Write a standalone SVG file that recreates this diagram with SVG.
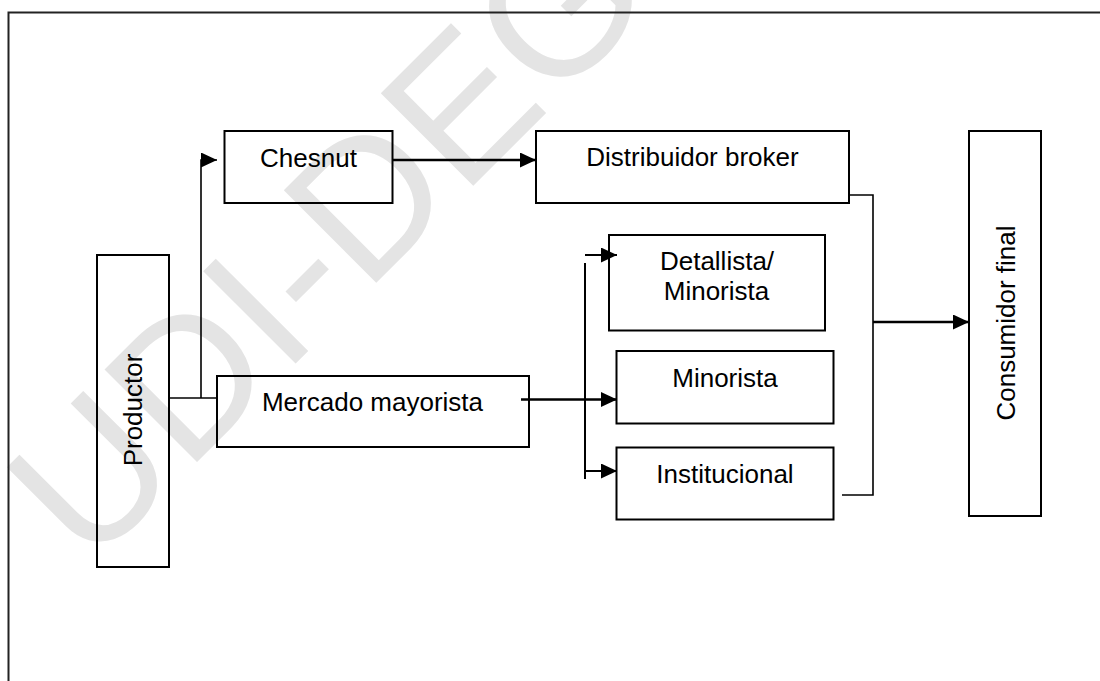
<svg xmlns="http://www.w3.org/2000/svg" width="1100" height="681" viewBox="0 0 1100 681">
  <defs>
    <style>
      .box { fill: none; stroke: #000; stroke-width: 2; }
      .lbl { font-family: "Liberation Sans", Arial, sans-serif; font-size: 26px; fill: #000; text-anchor: middle; }
      .thin { fill: none; stroke: #000; stroke-width: 1.6; }
      .thick { fill: none; stroke: #000; stroke-width: 2.6; }
      .mark { font-family: "Liberation Sans", Arial, sans-serif; font-size: 190px; fill: #e4e4e4; }
    </style>
    <marker id="head" markerUnits="userSpaceOnUse" markerWidth="16" markerHeight="15" refX="16" refY="7.5" orient="auto">
      <path d="M0,0 L16,7.5 L0,15 z" fill="#000"/>
    </marker>
  </defs>

  <rect width="1100" height="681" fill="#fff"/>

  <!-- background stamp -->
  <text class="mark" x="-340" y="466" transform="rotate(-45)">UDI-DEG</text>

  <!-- page frame -->
  <rect x="8.5" y="12.5" width="1200" height="800" fill="none" stroke="#222" stroke-width="2"/>

  <g id="productor">
    <rect class="box" x="97" y="255" width="72" height="312"/>
    <text class="lbl" transform="translate(142,410) rotate(-90)">Productor</text>
  </g>

  <g id="chesnut">
    <rect class="box" x="224.5" y="131" width="168" height="72"/>
    <text class="lbl" x="308.5" y="166.5">Chesnut</text>
  </g>

  <g id="distribuidor">
    <rect class="box" x="536" y="131" width="313" height="72"/>
    <text class="lbl" x="692.5" y="166">Distribuidor broker</text>
  </g>

  <g id="mercado">
    <rect class="box" x="217" y="376" width="312" height="71"/>
    <text class="lbl" x="372.5" y="410.5">Mercado mayorista</text>
  </g>

  <g id="detallista">
    <rect class="box" x="609" y="235" width="216" height="95.5"/>
    <text class="lbl" x="717" y="270">Detallista/</text>
    <text class="lbl" x="716.5" y="300">Minorista</text>
  </g>

  <g id="minorista">
    <rect class="box" x="616.5" y="351" width="217" height="72.5"/>
    <text class="lbl" x="725" y="386.5">Minorista</text>
  </g>

  <g id="institucional">
    <rect class="box" x="616.5" y="447.5" width="217" height="72"/>
    <text class="lbl" x="725" y="482.5">Institucional</text>
  </g>

  <g id="consumidor">
    <rect class="box" x="969" y="131" width="72" height="385"/>
    <text class="lbl" transform="translate(1015,323) rotate(-90)">Consumidor final</text>
  </g>

  <g id="connectors">
    <path class="thin" d="M169,398 H217"/>
    <path class="thin" d="M201,398 V160 H217" marker-end="url(#head)"/>
    <path class="thick" d="M393,160 H536" marker-end="url(#head)"/>
    <path class="thick" d="M521,399.5 H617" marker-end="url(#head)"/>
    <path class="thin" d="M585,263 V479" style="stroke-width:2"/>
    <path class="thin" d="M585,255 H617" style="stroke-width:2" marker-end="url(#head)"/>
    <path class="thin" d="M585,471 H617" style="stroke-width:2" marker-end="url(#head)"/>
    <path class="thin" d="M849,195 H873 V495 H842"/>
    <path class="thick" d="M873,322 H969" marker-end="url(#head)"/>
  </g>
</svg>
